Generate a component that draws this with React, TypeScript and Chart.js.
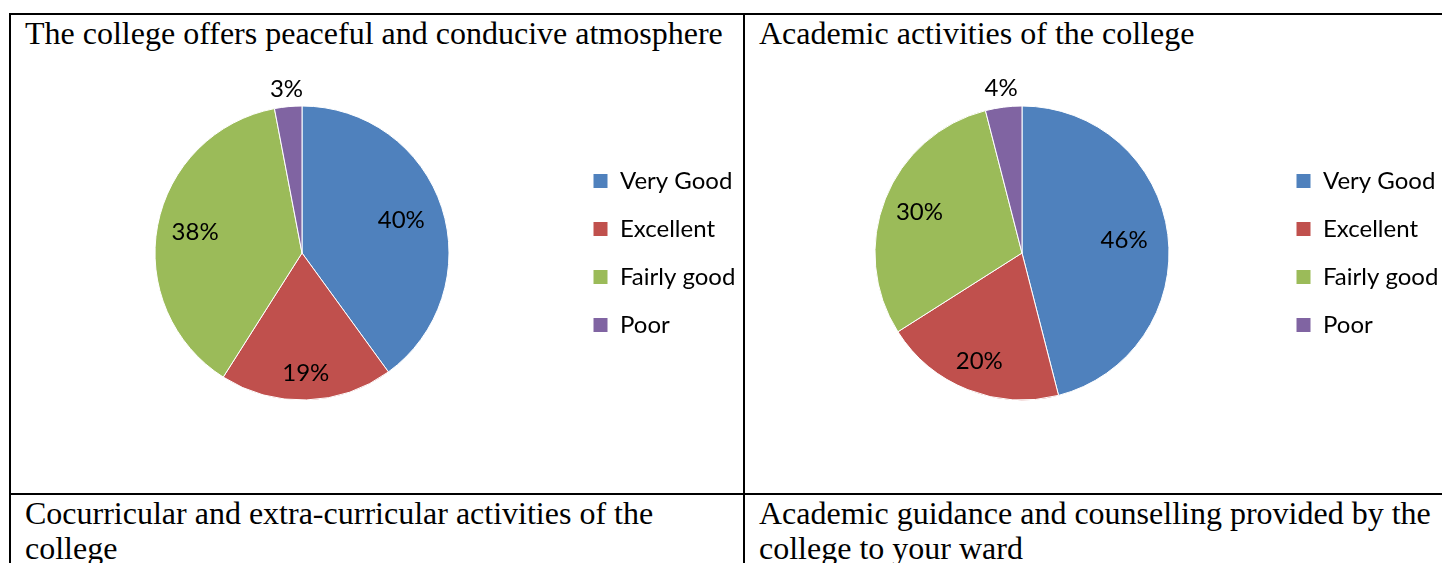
import React, { useEffect, useRef } from "react";
import { Chart, registerables } from "chart.js";

Chart.register(...registerables);

// ---------- data ----------
const categories = ["Very Good", "Excellent", "Fairly good", "Poor"];
const atmosphereValues = [40, 19, 38, 3];
const academicValues = [46, 20, 30, 4];

const titleAtmosphere = ["The college offers peaceful and conducive atmosphere"];
const titleAcademic = ["Academic activities of the college"];
const titleCocurricular = ["Cocurricular and extra-curricular activities of the", "college"];
const titleGuidance = ["Academic guidance and counselling provided by the", "college to your ward"];

// ---------- styles ----------
const sliceColors = ["#4F81BD", "#C0504D", "#9BBB59", "#8064A2"];
const SANS = "Lato";
const SERIF = "'Liberation Serif', 'Times New Roman', serif";
const FONT_SIZE = 24;
const LEGEND_PAD = 24;
const BOX = 15;

// label distance from centre, as a fraction of the radius (per slice)
const labelRadiiAtmosphere = [0.71, 0.82, 0.74, 1.12];
const labelRadiiAcademic = [0.7, 0.79, 0.75, 1.13];

type PieProps = {
  left: number;
  top: number;
  width: number;
  height: number;
  values: number[];
  radii: number[];
  centerX: number; // page x of pie centre
  boxX: number; // page x of legend box
  radius: number;
};

function PieCell({ left, top, width, height, values, radii, centerX, boxX, radius }: PieProps) {
  const ref = useRef<HTMLCanvasElement | null>(null);

  useEffect(() => {
    if (!ref.current) return;
    const m = document.createElement("canvas").getContext("2d")!;
    m.font = `${FONT_SIZE}px ${SANS}`;
    const maxW = Math.max(...categories.map((c) => m.measureText(c).width));
    const legendWidth = 10 + LEGEND_PAD + BOX + FONT_SIZE / 2 + maxW;
    const legendLeft = boxX - left - LEGEND_PAD;
    const padRight = width - (legendLeft + legendWidth);
    const padLeft = 2 * (centerX - left) - legendLeft;

    const labelPlugin = {
      id: "pctLabels",
      afterDatasetsDraw(chart: any) {
        const ctx = chart.ctx as CanvasRenderingContext2D;
        const meta = chart.getDatasetMeta(0);
        const data = chart.data.datasets[0].data as number[];
        const total = data.reduce((a, b) => a + b, 0);
        ctx.save();
        ctx.font = `${FONT_SIZE}px ${SANS}`;
        ctx.fillStyle = "#000";
        ctx.textAlign = "center";
        ctx.textBaseline = "middle";
        meta.data.forEach((arc: any, i: number) => {
          const { x, y, startAngle, endAngle, outerRadius } = arc.getProps(
            ["x", "y", "startAngle", "endAngle", "outerRadius"],
            true
          );
          const mid = (startAngle + endAngle) / 2;
          const r = outerRadius * radii[i];
          ctx.fillText(`${Math.round((data[i] / total) * 100)}%`, x + Math.cos(mid) * r, y + Math.sin(mid) * r);
        });
        ctx.restore();
      },
    };

    const chart = new Chart(ref.current, {
      type: "pie",
      data: {
        labels: categories,
        datasets: [
          {
            data: values,
            backgroundColor: sliceColors,
            borderColor: "#ffffff",
            borderWidth: 1,
          },
        ],
      },
      options: {
        animation: false,
        responsive: false,
        maintainAspectRatio: false,
        radius: radius,
        layout: { padding: { left: padLeft, right: padRight, top: 0, bottom: 0 } },
        plugins: {
          legend: {
            position: "right",
            align: "center",
            labels: {
              boxWidth: BOX,
              boxHeight: BOX,
              padding: LEGEND_PAD,
              color: "#000",
              font: { family: SANS, size: FONT_SIZE },
            },
          },
          tooltip: { enabled: false },
        },
      } as any,
      plugins: [labelPlugin],
    });
    return () => chart.destroy();
  }, []);

  return (
    <canvas
      ref={ref}
      width={width}
      height={height}
      style={{ position: "absolute", left, top, width, height }}
    />
  );
}

function Title({ left, top, lines }: { left: number; top: number; lines: string[] }) {
  return (
    <div
      style={{
        position: "absolute",
        left,
        top,
        fontFamily: SERIF,
        fontSize: 32,
        lineHeight: "35px",
        whiteSpace: "nowrap",
        color: "#000",
      }}
    >
      {lines.map((l, i) => (
        <div key={i}>{l}</div>
      ))}
    </div>
  );
}

const line = (left: number, top: number, width: number, height: number) => (
  <div style={{ position: "absolute", left, top, width, height, background: "#000" }} />
);

export default function App() {
  return (
    <div style={{ position: "relative", width: 1442, height: 563, overflow: "hidden", background: "#fff" }}>
      <style>{`body{margin:0;overflow:hidden;background:#fff}`}</style>
      {line(9, 13, 1433, 2)}
      {line(9, 13, 2, 550)}
      {line(743, 13, 2, 550)}
      {line(9, 493, 1433, 2)}

      <Title left={25} top={16} lines={titleAtmosphere} />
      <Title left={759} top={16} lines={titleAcademic} />
      <Title left={25} top={496} lines={titleCocurricular} />
      <Title left={759} top={496} lines={titleGuidance} />

      <PieCell
        left={11}
        top={60}
        width={732}
        height={386}
        values={atmosphereValues}
        radii={labelRadiiAtmosphere}
        centerX={302}
        boxX={593}
        radius={147}
      />
      <PieCell
        left={745}
        top={60}
        width={697}
        height={386}
        values={academicValues}
        radii={labelRadiiAcademic}
        centerX={1022}
        boxX={1296}
        radius={147}
      />
    </div>
  );
}
